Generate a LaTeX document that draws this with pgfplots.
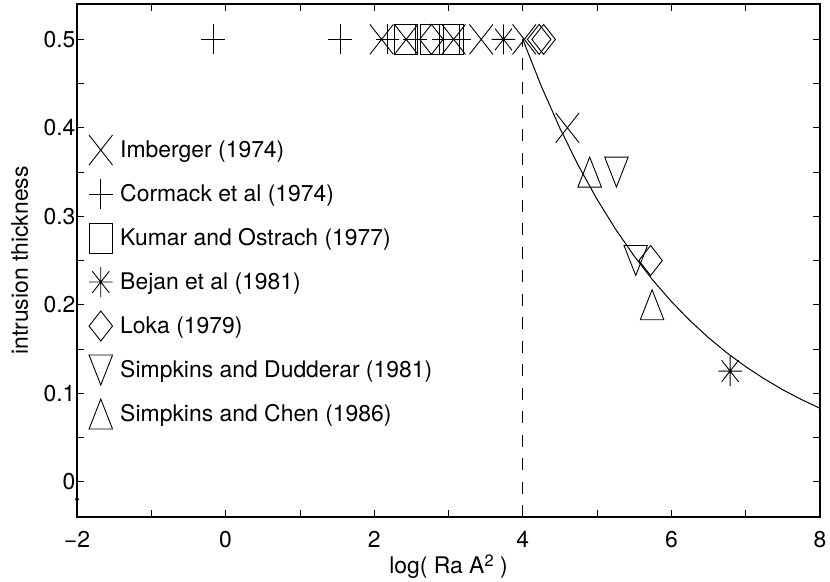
\documentclass[border=0pt]{standalone}
\usepackage{fontspec}
\setmainfont{TeX Gyre Heros}
\usepackage{pgfplots}
\pgfplotsset{compat=1.18}

% open markers, 23.5 wide and 30 tall as in the reference
\pgfdeclareplotmark{mX}{%
  \pgfpathmoveto{\pgfpoint{-11.75bp}{-15bp}}\pgfpathlineto{\pgfpoint{11.75bp}{15bp}}%
  \pgfpathmoveto{\pgfpoint{-11.75bp}{15bp}}\pgfpathlineto{\pgfpoint{11.75bp}{-15bp}}%
  \pgfusepathqstroke}
\pgfdeclareplotmark{mplus}{%
  \pgfpathmoveto{\pgfpoint{-11.75bp}{0bp}}\pgfpathlineto{\pgfpoint{11.75bp}{0bp}}%
  \pgfpathmoveto{\pgfpoint{0bp}{-15bp}}\pgfpathlineto{\pgfpoint{0bp}{15bp}}%
  \pgfusepathqstroke}
\pgfdeclareplotmark{msq}{%
  \pgfpathrectanglecorners{\pgfpoint{-11.75bp}{-15bp}}{\pgfpoint{11.75bp}{15bp}}%
  \pgfusepathqstroke}
\pgfdeclareplotmark{mstar}{%
  \pgfpathmoveto{\pgfpoint{-11.75bp}{0bp}}\pgfpathlineto{\pgfpoint{11.75bp}{0bp}}%
  \pgfpathmoveto{\pgfpoint{0bp}{-15bp}}\pgfpathlineto{\pgfpoint{0bp}{15bp}}%
  \pgfpathmoveto{\pgfpoint{-8.5bp}{-10.8bp}}\pgfpathlineto{\pgfpoint{8.5bp}{10.8bp}}%
  \pgfpathmoveto{\pgfpoint{-8.5bp}{10.8bp}}\pgfpathlineto{\pgfpoint{8.5bp}{-10.8bp}}%
  \pgfusepathqstroke}
\pgfdeclareplotmark{mdiam}{%
  \pgfpathmoveto{\pgfpoint{0bp}{15bp}}\pgfpathlineto{\pgfpoint{11.75bp}{0bp}}%
  \pgfpathlineto{\pgfpoint{0bp}{-15bp}}\pgfpathlineto{\pgfpoint{-11.75bp}{0bp}}%
  \pgfpathclose\pgfusepathqstroke}
\pgfdeclareplotmark{mtrid}{%
  \pgfpathmoveto{\pgfpoint{0bp}{-15bp}}\pgfpathlineto{\pgfpoint{11.75bp}{15bp}}%
  \pgfpathlineto{\pgfpoint{-11.75bp}{15bp}}%
  \pgfpathclose\pgfusepathqstroke}
\pgfdeclareplotmark{mtriu}{%
  \pgfpathmoveto{\pgfpoint{0bp}{15bp}}\pgfpathlineto{\pgfpoint{11.75bp}{-15bp}}%
  \pgfpathlineto{\pgfpoint{-11.75bp}{-15bp}}%
  \pgfpathclose\pgfusepathqstroke}

\begin{document}
\begin{tikzpicture}[font=\fontsize{23}{27}\selectfont]
\begin{axis}[
  scale only axis, width=743bp, height=513bp,
  xmin=-2, xmax=8, ymin=-0.04, ymax=0.54,
  xtick={-2,0,2,4,6,8}, xticklabels={−2,0,2,4,6,8},
  ytick={0,0.1,0.2,0.3,0.4,0.5}, yticklabels={0,0.1,0.2,0.3,0.4,0.5},
  minor x tick num=1, minor y tick num=1,
  tick align=inside, major tick length=7bp, minor tick length=7bp,
  axis line style={line width=1.2bp}, tick style={line width=0.8bp, black},
  xticklabel style={anchor=base, yshift=-30bp},
  yticklabel style={xshift=2bp},
  xlabel={log( Ra A\raisebox{6.6bp}{\fontsize{16.5}{18}\selectfont 2} )},
  xlabel style={at={(rel axis cs:0.5,0)}, anchor=base, yshift=-56bp},
  ylabel={intrusion thickness},
  ylabel style={at={([xshift=-49bp]rel axis cs:0,0.5)}, anchor=base},
  legend style={at={(rel axis cs:0.0162,0.7446)}, anchor=north west,
    draw=none, fill=none, inner sep=0pt, outer sep=0pt, row sep=14bp,
    font=\fontsize{23}{27}\selectfont},
  legend cell align=left,
  legend image code/.code={\draw[#1] plot coordinates {(0bp,0bp)}; \path (17bp,0bp);},
  every axis plot/.append style={line width=0.9bp, black},
]
\addplot[only marks, mark=mX] coordinates {
  (2.10,0.5) (2.43,0.5) (3.07,0.5) (3.44,0.5) (4.02,0.5) (4.60,0.40)};
\addlegendentry{Imberger (1974)}
\addplot[only marks, mark=mplus] coordinates {
  (-0.17,0.5) (1.54,0.5) (2.18,0.5) (2.55,0.5) (2.93,0.5) (3.15,0.5)};
\addlegendentry{Cormack et al (1974)}
\addplot[only marks, mark=msq] coordinates {
  (2.43,0.5) (2.78,0.5) (3.04,0.5)};
\addlegendentry{Kumar and Ostrach (1977)}
\addplot[only marks, mark=mstar] coordinates {
  (3.74,0.5) (6.79,0.125)};
\addlegendentry{Bejan et al (1981)}
\addplot[only marks, mark=mdiam] coordinates {
  (2.77,0.5) (4.22,0.5) (4.28,0.5) (5.72,0.25)};
\addlegendentry{Loka (1979)}
\addplot[only marks, mark=mtrid] coordinates {
  (5.26,0.35) (5.52,0.25)};
\addlegendentry{Simpkins and Dudderar (1981)}
\addplot[only marks, mark=mtriu] coordinates {
  (4.90,0.35) (5.74,0.20)};
\addlegendentry{Simpkins and Chen (1986)}
% fitted curve
\addplot[no marks, line width=1bp, forget plot] coordinates {
  (4.00,0.5000) (4.25,0.4469) (4.50,0.3994) (4.75,0.3570) (5.00,0.3191)
  (5.25,0.2852) (5.50,0.2549) (5.75,0.2278) (6.00,0.2036) (6.25,0.1820)
  (6.50,0.1627) (6.75,0.1454) (7.00,0.1300) (7.25,0.1162) (7.50,0.1038)
  (7.75,0.0928) (8.00,0.0829)};
% dashed line at log(Ra A^2) = 4
\addplot[no marks, line width=0.9bp, dash pattern=on 12bp off 11.5bp, forget plot] coordinates {
  (4,-0.04) (4,0.5)};
% stray dot on the left axis
\addplot[only marks, mark=*, mark size=1.6bp, forget plot] coordinates {(-2,-0.02)};
\end{axis}
\path (current axis.south west) ++(-77bp,-61bp) rectangle ++(830bp,578bp);
\end{tikzpicture}
\end{document}
